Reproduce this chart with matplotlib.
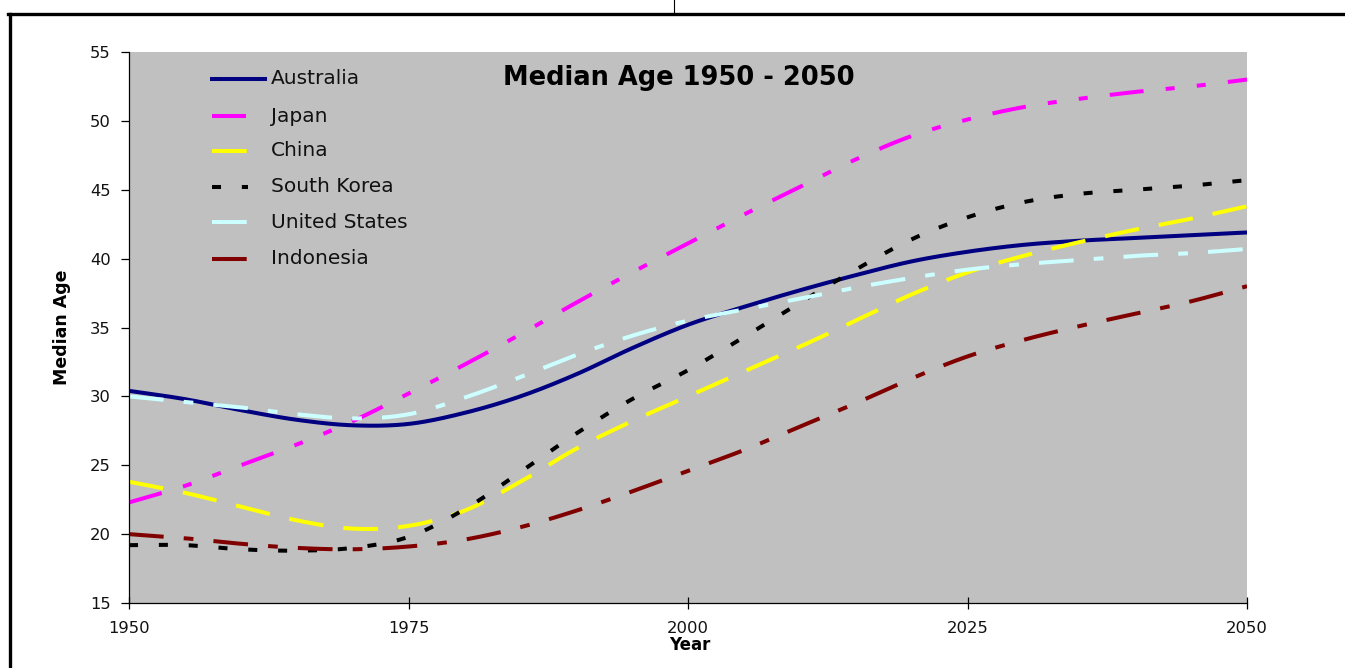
import numpy as np
import matplotlib
matplotlib.use("Agg")
import matplotlib.pyplot as plt
from matplotlib.lines import Line2D

plt.rcParams['font.family'] = ['DejaVu Sans']
plt.rcParams['lines.scale_dashes'] = False

# Median age by country, 5-year steps
years = [1950, 1955, 1960, 1965, 1970, 1975, 1980, 1985, 1990, 1995, 2000,
         2005, 2010, 2015, 2020, 2025, 2030, 2035, 2040, 2045, 2050]

australia = [30.4, 29.8, 29.0, 28.3, 27.9, 28.0, 28.8, 30.0, 31.6, 33.5, 35.2,
             36.5, 37.7, 38.8, 39.8, 40.5, 41.0, 41.3, 41.5, 41.7, 41.9]
japan = [22.3, 23.5, 25.0, 26.5, 28.2, 30.2, 32.3, 34.5, 36.8, 39.0, 41.1,
         43.2, 45.2, 47.2, 48.9, 50.1, 51.0, 51.6, 52.1, 52.5, 53.0]
china = [23.8, 23.0, 22.0, 21.0, 20.4, 20.6, 21.7, 23.8, 26.2, 28.2, 30.0,
         31.8, 33.6, 35.5, 37.4, 39.0, 40.2, 41.2, 42.1, 42.9, 43.8]
south_korea = [19.2, 19.2, 18.9, 18.8, 19.0, 19.8, 21.8, 24.5, 27.3, 29.8, 31.9,
               34.3, 36.8, 39.2, 41.4, 43.0, 44.1, 44.7, 45.0, 45.3, 45.7]
united_states = [30.0, 29.6, 29.2, 28.7, 28.4, 28.7, 29.9, 31.4, 33.0, 34.4, 35.5,
                 36.3, 37.1, 37.9, 38.6, 39.2, 39.6, 39.9, 40.2, 40.4, 40.7]
indonesia = [20.0, 19.7, 19.3, 19.0, 18.9, 19.1, 19.6, 20.5, 21.7, 23.1, 24.6,
             26.1, 27.8, 29.5, 31.3, 32.9, 34.1, 35.1, 36.0, 36.9, 38.0]

series_names = ["Australia", "Japan", "China", "South Korea", "United States", "Indonesia"]
series_values = [australia, japan, china, south_korea, united_states, indonesia]
x_ticks = [1950, 1975, 2000, 2025, 2050]
y_ticks = [15, 20, 25, 30, 35, 40, 45, 50, 55]

styles = [
    dict(color="#000080", linestyle="-"),
    dict(color="#FF00FF", linestyle=(0, (24.5, 16, 6.5, 16, 6.5, 16))),
    dict(color="#FFFF00", linestyle=(0, (25, 14.5))),
    dict(color="#000000", linestyle=(0, (6.5, 15))),
    dict(color="#CCFFFF", linestyle=(0, (25, 14.5, 7, 14.5))),
    dict(color="#800000", linestyle=(0, (25, 14.5, 7, 14.5))),
]


def smooth(x, y, n=24):
    """Catmull-Rom curve through the given points."""
    pts = np.column_stack([np.asarray(x, float), np.asarray(y, float)])
    P = np.vstack([2 * pts[0] - pts[1], pts, 2 * pts[-1] - pts[-2]])
    t = np.linspace(0, 1, n, endpoint=False)[:, None]
    segs = []
    for i in range(1, len(P) - 2):
        p0, p1, p2, p3 = P[i - 1], P[i], P[i + 1], P[i + 2]
        segs.append(0.5 * (2 * p1 + (-p0 + p2) * t
                           + (2 * p0 - 5 * p1 + 4 * p2 - p3) * t ** 2
                           + (-p0 + 3 * p1 - 3 * p2 + p3) * t ** 3))
    segs.append(P[-2][None])
    c = np.vstack(segs)
    return c[:, 0], c[:, 1]


W, H = 1345, 668
fig = plt.figure(figsize=(W / 100, H / 100), dpi=100)
fig.patch.set_facecolor("white")

L, R, T, B = 129, 1247, 52, 603
ax = fig.add_axes([L / W, 1 - B / H, (R - L) / W, (B - T) / H])
ax.set_facecolor("#C0C0C0")

LW = 2.9
for vals, st in zip(series_values, styles):
    xs, ys = smooth(years, vals)
    ax.plot(xs, ys, lw=LW, solid_capstyle="butt", dash_capstyle="butt", **st)

ax.set_xlim(1950, 2050)
ax.set_ylim(15, 55)
ax.set_xticks(x_ticks)
ax.set_yticks(y_ticks)

for side in ("top", "right"):
    ax.spines[side].set_visible(False)
for side in ("left", "bottom"):
    ax.spines[side].set_linewidth(0.9)
    ax.spines[side].set_color("black")

ax.tick_params(axis="y", direction="out", length=6, width=0.9, pad=7,
               labelsize=11.8, colors="black", labelcolor="#111111")
ax.tick_params(axis="x", direction="inout", length=8, width=0.9, pad=9,
               labelsize=11.8, colors="black", labelcolor="#111111")

ax.set_xlabel("Year", fontsize=12, fontweight="bold", va="top")
ax.xaxis.set_label_coords((690 - L) / (R - L), (B - 636) / (B - T))
ax.set_ylabel("Median Age", fontsize=12.5, fontweight="bold", va="center")
ax.yaxis.set_label_coords((62 - L) / (R - L), 0.5)

ax.text((679 - L) / (R - L), (B - 78) / (B - T), "Median Age 1950 - 2050",
        transform=ax.transAxes, ha="center", va="center",
        fontsize=18.5, fontweight="bold")


def fx(px):
    return (px - L) / (R - L)


def fy(py):
    return (B - py) / (B - T)


# Legend samples
leg_y = [79, 116, 151, 187, 222, 259]
for i, (name, st) in enumerate(zip(series_names, styles)):
    x0, x1 = (210, 267) if i == 0 else (212, 248)
    ax.add_line(Line2D([fx(x0), fx(x1)], [fy(leg_y[i]), fy(leg_y[i])],
                       transform=ax.transAxes, lw=LW, solid_capstyle="butt",
                       dash_capstyle="butt", **st))
    ax.text(fx(271), fy(leg_y[i]), name, transform=ax.transAxes,
            ha="left", va="center", fontsize=14.5, color="#111111")

# Outer frame lines
frame_kw = dict(color="black", transform=fig.transFigure)
fig.add_artist(Line2D([8 / W, 1], [1 - 14 / H, 1 - 14 / H], lw=2.4, **frame_kw))
fig.add_artist(Line2D([9.5 / W, 9.5 / W], [0, 1 - 14 / H], lw=2.4, **frame_kw))
fig.add_artist(Line2D([673.5 / W, 673.5 / W], [1 - 14 / H, 1], lw=0.8, **frame_kw))

fig.savefig("out.png", dpi=100)
